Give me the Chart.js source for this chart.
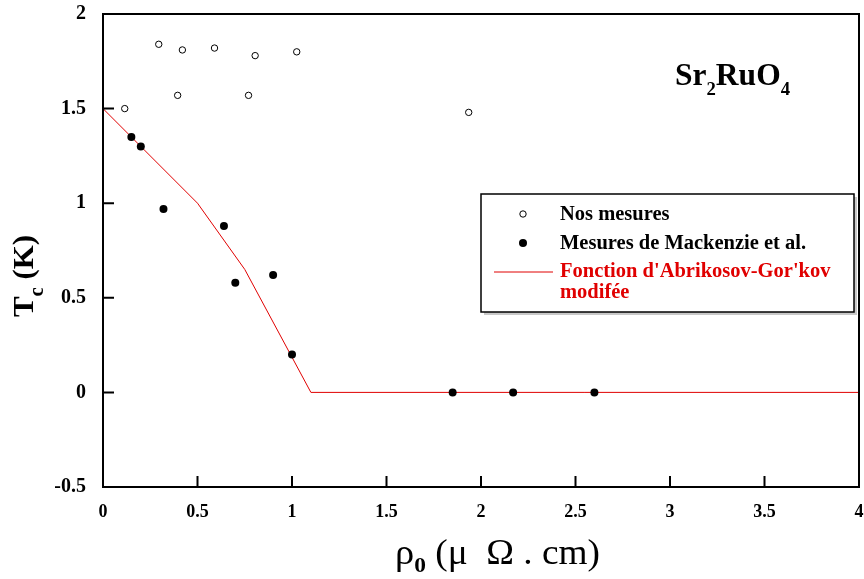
<!DOCTYPE html>
<html>
<head>
<meta charset="utf-8">
<script src="https://cdn.jsdelivr.net/npm/chart.js@4.4.1/dist/chart.umd.min.js"></script>
<style>
  html, body { margin: 0; padding: 0; background: #fff; }
  #wrap { width: 864px; height: 579px; position: relative; }
</style>
</head>
<body>
<div id="wrap"><canvas id="tc-chart"></canvas></div>
<script>
// Nos mesures (open circles)
const nosX = [0.115, 0.295, 0.42, 0.59, 0.805, 1.025, 0.395, 0.77, 1.935];
const nosY = [1.50, 1.84, 1.81, 1.82, 1.78, 1.80, 1.57, 1.57, 1.48];
// Mesures de Mackenzie et al. (filled circles)
const mackX = [0.15, 0.20, 0.32, 0.64, 0.70, 0.90, 1.00, 1.85, 2.17, 2.60];
const mackY = [1.35, 1.30, 0.97, 0.88, 0.58, 0.62, 0.20, 0, 0, 0];
// Fonction d'Abrikosov-Gor'kov modifée
const agX = [0, 0.5, 0.75, 1.1, 4];
const agY = [1.5, 1.0, 0.65, 0, 0];

const labels = ['Nos mesures', 'Mesures de Mackenzie et al.', "Fonction d'Abrikosov-Gor'kov", 'modifée'];
const SERIF = "'Liberation Serif', 'DejaVu Serif', serif";
const RED = '#e00000';

function pts(xs, ys) {
    return xs.map((x, i) => ({ x, y: ys[i] }));
}

// draws text pieces (some as subscripts), squeezed/stretched to a given width
function drawRich(ctx, parts, x, y, width, align) {
    let total = 0;
    parts.forEach(p => {
        ctx.font = p.font;
        p.w = ctx.measureText(p.t).width;
        total += p.w;
    });
    const sx = width ? width / total : 1;
    ctx.save();
    ctx.translate(align === 'center' ? x - total * sx / 2 : x, y);
    ctx.scale(sx, 1);
    ctx.textAlign = 'left';
    ctx.textBaseline = 'alphabetic';
    let cx = 0;
    parts.forEach(p => {
        ctx.font = p.font;
        ctx.fillText(p.t, cx, p.dy || 0);
        cx += p.w;
    });
    ctx.restore();
}

const decor = {
    id: 'decor',
    afterDraw(chart) {
        const { ctx, chartArea, scales } = chart;
        const { left, top, right, bottom } = chartArea;
        ctx.save();
        ctx.strokeStyle = '#000';
        ctx.lineWidth = 2;
        ctx.strokeRect(left, top, right - left, bottom - top);

        // inward ticks
        ctx.beginPath();
        scales.y.ticks.forEach(t => {
            const py = scales.y.getPixelForValue(t.value);
            ctx.moveTo(left, py);
            ctx.lineTo(left + 11, py);
        });
        scales.x.ticks.forEach(t => {
            const px = scales.x.getPixelForValue(t.value);
            ctx.moveTo(px, bottom);
            ctx.lineTo(px, bottom - 11);
        });
        ctx.stroke();

        // legend box
        const bx = 481, by = 194, bw = 373, bh = 118;
        ctx.fillStyle = '#c8c8c8';
        ctx.fillRect(bx + 3, by + 3, bw, bh);
        ctx.fillStyle = '#fff';
        ctx.fillRect(bx, by, bw, bh);
        ctx.lineWidth = 1.5;
        ctx.strokeStyle = '#000';
        ctx.strokeRect(bx, by, bw, bh);

        ctx.lineWidth = 1;
        ctx.beginPath();
        ctx.arc(523, 214, 3.2, 0, Math.PI * 2);
        ctx.stroke();
        ctx.fillStyle = '#000';
        ctx.beginPath();
        ctx.arc(523, 243, 4, 0, Math.PI * 2);
        ctx.fill();
        ctx.strokeStyle = RED;
        ctx.beginPath();
        ctx.moveTo(494, 272);
        ctx.lineTo(553, 272);
        ctx.stroke();

        ctx.font = `bold 20.5px ${SERIF}`;
        ctx.textAlign = 'left';
        ctx.textBaseline = 'alphabetic';
        ctx.fillStyle = '#000';
        ctx.fillText(labels[0], 560, 220);
        ctx.fillText(labels[1], 560, 249);
        ctx.fillStyle = RED;
        ctx.fillText(labels[2], 560, 277);
        ctx.fillText(labels[3], 560, 298);

        // compound label
        ctx.fillStyle = '#000';
        const big = `bold 32px ${SERIF}`, sub = `bold 19px ${SERIF}`;
        drawRich(ctx, [
            { t: 'Sr', font: big }, { t: '2', font: sub, dy: 10 },
            { t: 'RuO', font: big }, { t: '4', font: sub, dy: 10 },
        ], 675, 85, 115, 'left');

        // x title
        drawRich(ctx, [
            { t: 'ρ', font: `36px ${SERIF}` }, { t: '0', font: `bold 22px ${SERIF}`, dy: 8 },
            { t: ' (μ  Ω . cm)', font: `35px ${SERIF}` },
        ], 395, 564, 205, 'left');

        // y title
        ctx.translate(33, 276);
        ctx.rotate(-Math.PI / 2);
        drawRich(ctx, [
            { t: 'T', font: `bold 30px ${SERIF}` }, { t: 'c', font: `bold 20px ${SERIF}`, dy: 10 },
            { t: ' (K)', font: `bold 30px ${SERIF}` },
        ], 0, 0, 82, 'center');
        ctx.restore();
    },
};

document.addEventListener('DOMContentLoaded', () => {
    const canvas = document.getElementById('tc-chart');
    new Chart(canvas.getContext('2d'), {
        type: 'scatter',
        data: {
            datasets: [
                {
                    label: labels[0],
                    data: pts(nosX, nosY),
                    pointStyle: 'circle',
                    pointRadius: 3.2,
                    borderColor: '#000',
                    backgroundColor: '#fff',
                    borderWidth: 1,
                },
                {
                    label: labels[1],
                    data: pts(mackX, mackY),
                    pointRadius: 4,
                    borderColor: '#000',
                    backgroundColor: '#000',
                    borderWidth: 0,
                },
                {
                    label: labels[2],
                    data: pts(agX, agY),
                    showLine: true,
                    pointRadius: 0,
                    borderColor: RED,
                    borderWidth: 1,
                    order: 3,
                },
            ],
        },
        options: {
            responsive: true,
            maintainAspectRatio: false,
            animation: false,
            layout: { padding: { left: 0, top: 14, right: 4.5, bottom: 0 } },
            plugins: { legend: { display: false }, tooltip: { enabled: false } },
            scales: {
                x: {
                    type: 'linear',
                    min: 0,
                    max: 4,
                    grid: { display: false },
                    border: { display: false },
                    ticks: {
                        stepSize: 0.5,
                        padding: 7,
                        color: '#000',
                        font: { family: SERIF, size: 18, weight: 'bold' },
                        callback: v => String(v),
                    },
                    afterFit(scale) {
                        scale.height = 92;
                        scale.paddingLeft = 0;
                        scale.paddingRight = 0;
                    },
                },
                y: {
                    min: -0.5,
                    max: 2,
                    grid: { display: false },
                    border: { display: false },
                    ticks: {
                        stepSize: 0.5,
                        padding: 9,
                        color: '#000',
                        font: { family: SERIF, size: 20, weight: 'bold' },
                        callback: v => String(v),
                    },
                    afterFit(scale) {
                        scale.width = 103;
                        scale.paddingTop = 0;
                        scale.paddingBottom = 0;
                    },
                },
            },
        },
        plugins: [decor],
    });
});
</script>
</body>
</html>
